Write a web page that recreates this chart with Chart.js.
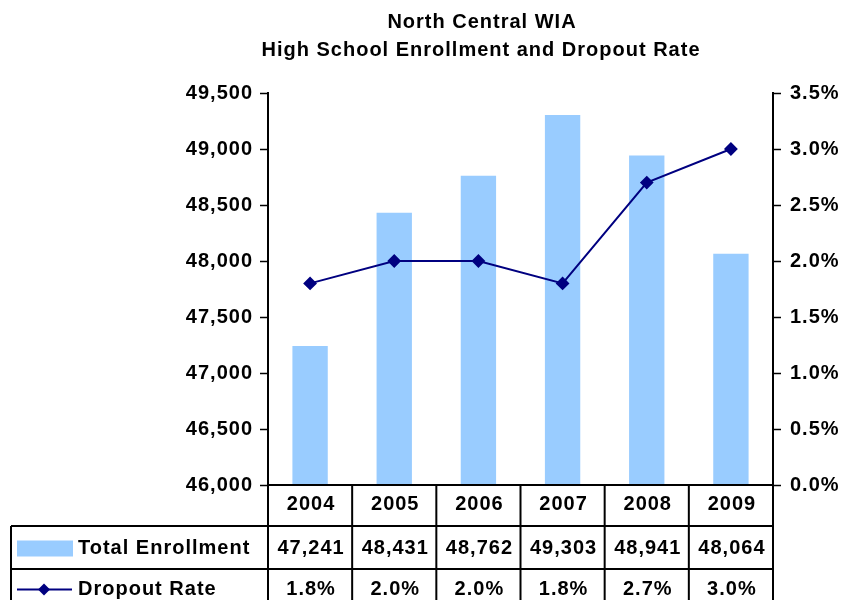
<!DOCTYPE html>
<html>
<head>
<meta charset="utf-8">
<style>
  html, body { margin: 0; padding: 0; background: #fff; }
  #wrap { width: 850px; height: 600px; }
</style>
<script src="https://cdn.jsdelivr.net/npm/chart.js@4"></script>
</head>
<body>
<div id="wrap"><canvas id="enrollChart" width="850" height="600"></canvas></div>
<script>
const years = ["2004", "2005", "2006", "2007", "2008", "2009"];
const enrollment = [47241, 48431, 48762, 49303, 48941, 48064];
const dropoutRate = [1.8, 2.0, 2.0, 1.8, 2.7, 3.0];
const titleLines = ["North Central WIA", "High School Enrollment and Dropout Rate"];

const BAR_BLUE = "#99CCFF";
const NAVY = "#000080";
const FAMILY = "'Liberation Sans', Arial, sans-serif";
const FONT = "bold 20px " + FAMILY;

// slightly loose letter spacing everywhere
const spacing = {
  id: "spacing",
  beforeUpdate(chart) { chart.ctx.letterSpacing = "1px"; },
  beforeDraw(chart) { chart.ctx.letterSpacing = "1px"; },
};

// title above the plot
const titleText = {
  id: "titleText",
  afterDraw(chart) {
    const ctx = chart.ctx;
    ctx.save();
    ctx.font = FONT;
    ctx.fillStyle = "#000";
    ctx.textAlign = "center";
    ctx.textBaseline = "middle";
    ctx.fillText(titleLines[0], 482, 22);
    ctx.fillText(titleLines[1], 481, 50);
    ctx.restore();
  },
};

// data table under the x axis
const dataTable = {
  id: "dataTable",
  afterDraw(chart) {
    const ctx = chart.ctx;
    const area = chart.chartArea;
    const x = chart.scales.x;
    const colW = (area.right - area.left) / years.length;
    const rows = [area.bottom, area.bottom + 41, area.bottom + 84, area.bottom + 127];
    const tableLeft = 11;

    ctx.save();
    ctx.strokeStyle = "#000";
    ctx.lineWidth = 2;
    ctx.beginPath();
    ctx.moveTo(area.left, rows[0]);
    ctx.lineTo(area.right, rows[0]);
    for (let r = 1; r < rows.length; r++) {
      ctx.moveTo(tableLeft, rows[r]);
      ctx.lineTo(area.right, rows[r]);
    }
    for (let i = 0; i <= years.length; i++) {
      const cx = area.left + i * colW;
      ctx.moveTo(cx, rows[0]);
      ctx.lineTo(cx, rows[3]);
    }
    ctx.moveTo(tableLeft, rows[1]);
    ctx.lineTo(tableLeft, rows[3]);
    ctx.stroke();

    ctx.font = FONT;
    ctx.fillStyle = "#000";
    ctx.textBaseline = "middle";
    ctx.textAlign = "center";
    const yYear = (rows[0] + rows[1]) / 2 - 1;
    const yEnr = (rows[1] + rows[2]) / 2 + 1;
    const yRate = (rows[2] + rows[3]) / 2 - 1;
    years.forEach((yr, i) => {
      const cx = x.getPixelForValue(i) + 1;
      ctx.fillText(yr, cx, yYear);
      ctx.fillText(enrollment[i].toLocaleString("en-US"), cx, yEnr);
      ctx.fillText(dropoutRate[i].toFixed(1) + "%", cx, yRate);
    });

    // series keys
    ctx.fillStyle = BAR_BLUE;
    ctx.fillRect(17, yEnr - 8, 56, 16);
    ctx.strokeStyle = NAVY;
    ctx.lineWidth = 2;
    ctx.beginPath();
    ctx.moveTo(17, yRate);
    ctx.lineTo(72, yRate);
    ctx.stroke();
    ctx.fillStyle = NAVY;
    ctx.beginPath();
    ctx.moveTo(44, yRate - 6);
    ctx.lineTo(50, yRate);
    ctx.lineTo(44, yRate + 6);
    ctx.lineTo(38, yRate);
    ctx.closePath();
    ctx.fill();

    ctx.fillStyle = "#000";
    ctx.textAlign = "left";
    ctx.fillText("Total Enrollment", 78, yEnr);
    ctx.fillText("Dropout Rate", 78, yRate);
    ctx.restore();
  },
};

const ctx = document.getElementById("enrollChart").getContext("2d");
new Chart(ctx, {
  data: {
    labels: years,
    datasets: [
      {
        type: "line",
        label: "Dropout Rate",
        data: dropoutRate,
        yAxisID: "y1",
        borderColor: NAVY,
        backgroundColor: NAVY,
        borderWidth: 2,
        pointStyle: "rectRot",
        pointRadius: 5.5,
        pointHoverRadius: 5.5,
        tension: 0,
        order: 0,
      },
      {
        type: "bar",
        label: "Total Enrollment",
        data: enrollment,
        yAxisID: "y",
        backgroundColor: BAR_BLUE,
        borderWidth: 0,
        categoryPercentage: 1,
        barPercentage: 0.42,
        order: 1,
      },
    ],
  },
  options: {
    responsive: false,
    animation: false,
    events: [],
    layout: { padding: { top: 93, bottom: 115, left: 0, right: 0 } },
    plugins: {
      legend: { display: false },
      title: { display: false },
      tooltip: { enabled: false },
    },
    scales: {
      x: {
        offset: true,
        grid: { display: false },
        border: { display: false },
        ticks: { display: false },
        afterFit: (s) => { s.height = 0; },
      },
      y: {
        position: "left",
        min: 46000,
        max: 49500,
        ticks: {
          stepSize: 500,
          color: "#000",
          font: { family: FAMILY, size: 20, weight: "bold" },
          padding: 7,
          callback: (v) => v.toLocaleString("en-US"),
        },
        grid: { drawOnChartArea: false, tickLength: 8, tickColor: "#000", tickWidth: 1.5 },
        border: { color: "#000", width: 2 },
        afterFit: (s) => { s.width = 268; },
      },
      y1: {
        position: "right",
        min: 0,
        max: 3.5,
        ticks: {
          stepSize: 0.5,
          color: "#000",
          font: { family: FAMILY, size: 20, weight: "bold" },
          padding: 9,
          callback: (v) => v.toFixed(1) + "%",
        },
        grid: { drawOnChartArea: false, tickLength: 8, tickColor: "#000", tickWidth: 1.5 },
        border: { color: "#000", width: 2 },
        afterFit: (s) => { s.width = 77; },
      },
    },
  },
  plugins: [spacing, titleText, dataTable],
});
</script>
</body>
</html>
